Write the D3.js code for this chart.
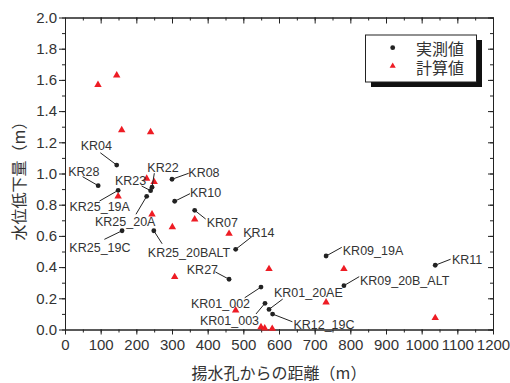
<!DOCTYPE html>
<html lang="ja">
<head>
<meta charset="UTF-8">
<title>水位低下量</title>
<script src="https://d3js.org/d3.v7.min.js"></script>
<style>
  body { margin: 0; background: #fff; }
  .axis text { font-family: "Liberation Sans", Arial, sans-serif; font-size: 15px; fill: #333; }
  .axis path, .axis line { stroke: #222; }
  .lbl { font-family: "Liberation Sans", Arial, sans-serif; font-size: 12.5px; fill: #333; }
  .jp { font-family: "Noto Sans CJK JP", sans-serif; fill: #333; }
</style>
</head>
<body>
<svg id="chart" width="510" height="383"></svg>
<script>
// measured (実測値)
var wells = ["KR04", "KR28", "KR08", "KR23", "KR22", "KR25_19A", "KR25_20A", "KR10", "KR07",
  "KR25_19C", "KR25_20BALT", "KR14", "KR27", "KR01_002", "KR01_003", "KR01_20AE", "KR12_19C",
  "KR09_19A", "KR09_20B_ALT", "KR11"];
var obsDist = [145, 93, 300, 240, 244, 149, 229, 307.5, 363.6, 160, 249, 478.5, 460, 549.5, 560.7, 572, 582, 732, 782, 1038];
var obsDraw = [1.054, 0.922, 0.963, 0.890, 0.912, 0.892, 0.854, 0.822, 0.764, 0.633, 0.633, 0.514, 0.322, 0.272, 0.168, 0.129, 0.099, 0.471, 0.281, 0.412];

// calculated (計算値)
var calcDist = [92.5, 145, 159, 240, 229, 250, 149, 244, 363.6, 301, 460, 307.5, 572, 478.5, 549.5, 560, 581, 782, 732, 1038];
var calcDraw = [1.569, 1.629, 1.279, 1.266, 0.967, 0.946, 0.854, 0.738, 0.706, 0.657, 0.614, 0.337, 0.388, 0.123, 0.016, 0.008, 0.005, 0.388, 0.174, 0.074];

var xTicks = [0, 100, 200, 300, 400, 500, 600, 700, 800, 900, 1000, 1100, 1200];
var yTicks = [0, 0.2, 0.4, 0.6, 0.8, 1.0, 1.2, 1.4, 1.6, 1.8, 2.0];

// label placement: text offset [dx, dy] and leader end [lx, ly], pixels from the point
var labelPos = [
  [-36, -15, -16.4, -12.3], [-30, -9.7, -15.6, -9], [16.3, -2.6, 16.7, -6], [-35.7, -5.7, -9, -4.7],
  [-4.7, -15.6, 2.3, -14], [-48.7, 20.4, -18.7, 10.7], [-51.7, 29.4, -10.7, 18], [15.3, -4.6, 15.3, -7.6],
  [12, 16.4, 11, 8.7], [-52.7, 21.6, -17.7, 8.6], [-6, 26.6, 8.3, 13], [7.6, -12.6, 17, -13.3],
  [-42.3, -5.3, -13.7, -7.3], [-70, 20.7, -16.3, 10.7], [-65, 21.7, -9, 10.7], [5, -12, 13.7, -10.3],
  [20.8, 15.3, 19.8, 7.7], [16.7, -1, 15.7, -8.7], [16, -0.7, 15.3, -9], [16.7, -1, 15.4, -6]
];

var svg = d3.select("#chart");
var mLeft = 65, mRight = 493, mTop = 17.5, mBottom = 329.5;

var x = d3.scaleLinear().domain([0, 1200]).range([mLeft, mRight]);
var y = d3.scaleLinear().domain([0, 2]).range([mBottom, mTop]);

var xMinor = d3.range(0, 1201, 50);
var yMinor = d3.range(0, 21).map(function (d) { return d / 10; });

// bottom axis
svg.append("g").attr("class", "axis").attr("transform", "translate(0," + mBottom + ")")
  .call(d3.axisBottom(x).tickValues(xMinor).tickSize(3).tickSizeOuter(0).tickFormat(""));
svg.append("g").attr("class", "axis").attr("transform", "translate(0," + mBottom + ")")
  .call(d3.axisBottom(x).tickValues(xTicks).tickSize(5).tickSizeOuter(0).tickPadding(5).tickFormat(d3.format("d")));
// top axis (inward ticks)
svg.append("g").attr("class", "axis").attr("transform", "translate(0," + mTop + ")")
  .call(d3.axisTop(x).tickValues(xMinor).tickSize(-3).tickSizeOuter(0).tickFormat(""));
svg.append("g").attr("class", "axis").attr("transform", "translate(0," + mTop + ")")
  .call(d3.axisTop(x).tickValues(xTicks).tickSize(-6).tickSizeOuter(0).tickFormat(""));
// left axis
svg.append("g").attr("class", "axis").attr("transform", "translate(" + mLeft + ",0)")
  .call(d3.axisLeft(y).tickValues(yMinor).tickSize(3).tickSizeOuter(0).tickFormat(""));
svg.append("g").attr("class", "axis").attr("transform", "translate(" + mLeft + ",0)")
  .call(d3.axisLeft(y).tickValues(yTicks).tickSize(6).tickSizeOuter(0).tickPadding(2).tickFormat(d3.format(".1f")));
// right axis (inward ticks)
svg.append("g").attr("class", "axis").attr("transform", "translate(" + mRight + ",0)")
  .call(d3.axisRight(y).tickValues(yMinor).tickSize(-3).tickSizeOuter(0).tickFormat(""));
svg.append("g").attr("class", "axis").attr("transform", "translate(" + mRight + ",0)")
  .call(d3.axisRight(y).tickValues(yTicks).tickSize(-5).tickSizeOuter(0).tickFormat(""));

// axis titles
svg.append("text").attr("class", "jp").attr("x", (mLeft + mRight) / 2).attr("y", 379)
  .attr("text-anchor", "middle").style("font-size", "16px").text("揚水孔からの距離（m）");
svg.append("text").attr("class", "jp").attr("transform", "translate(25,177) rotate(-90)")
  .attr("text-anchor", "middle").style("font-size", "16px").text("水位低下量（m）");

// calculated triangles
svg.append("g").selectAll("path").data(calcDist).join("path")
  .attr("transform", function (d, i) { return "translate(" + x(d) + "," + y(calcDraw[i]) + ")"; })
  .attr("d", d3.symbol().type(d3.symbolTriangle).size(24))
  .attr("fill", "#ee1c24");

// leader lines + labels
var lab = svg.append("g");
wells.forEach(function (w, i) {
  var px = x(obsDist[i]), py = y(obsDraw[i]), p = labelPos[i];
  lab.append("line").attr("x1", px).attr("y1", py).attr("x2", px + p[2]).attr("y2", py + p[3])
    .attr("stroke", "#222").attr("stroke-width", 1);
  lab.append("text").attr("class", "lbl").attr("x", px + p[0]).attr("y", py + p[1]).text(w);
});

// measured dots
svg.append("g").selectAll("circle").data(obsDist).join("circle")
  .attr("cx", function (d) { return x(d); })
  .attr("cy", function (d, i) { return y(obsDraw[i]); })
  .attr("r", 2.4).attr("fill", "#222");

// legend
var lg = svg.append("g");
lg.append("rect").attr("x", 371).attr("y", 40).attr("width", 111).attr("height", 47).attr("fill", "#111");
lg.append("rect").attr("x", 365.5).attr("y", 35).attr("width", 111).attr("height", 47)
  .attr("fill", "#fff").attr("stroke", "#222").attr("stroke-width", 1);
lg.append("circle").attr("cx", 392.7).attr("cy", 47.7).attr("r", 2.4).attr("fill", "#222");
lg.append("path").attr("transform", "translate(392.7,66)")
  .attr("d", d3.symbol().type(d3.symbolTriangle).size(16)).attr("fill", "#ee1c24");
lg.append("text").attr("class", "jp").attr("x", 416).attr("y", 55).style("font-size", "16px").text("実測値");
lg.append("text").attr("class", "jp").attr("x", 416).attr("y", 74).style("font-size", "16px").text("計算値");
</script>
</body>
</html>
